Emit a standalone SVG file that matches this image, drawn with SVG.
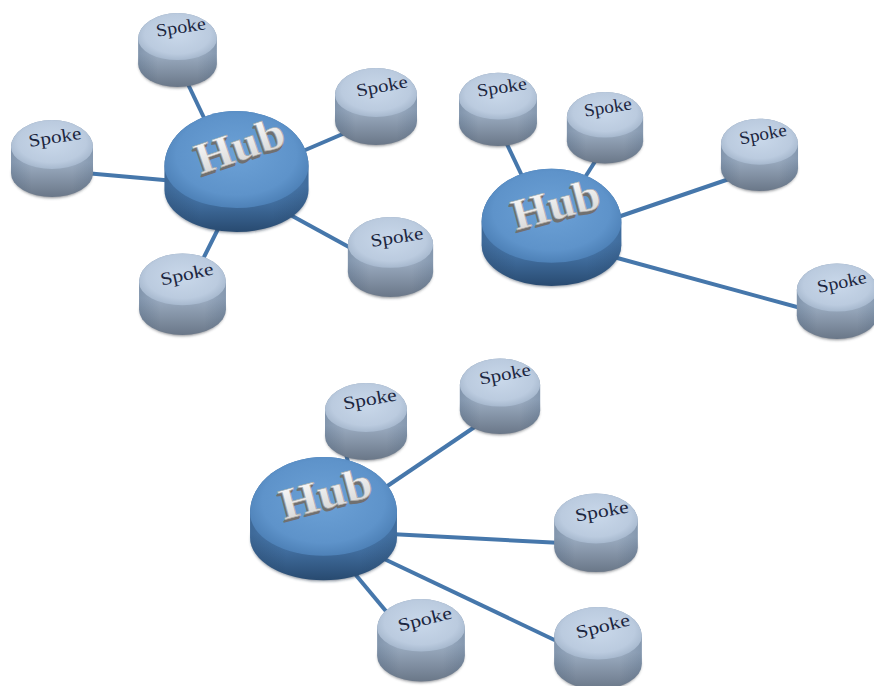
<svg xmlns="http://www.w3.org/2000/svg" xmlns:xlink="http://www.w3.org/1999/xlink" width="874" height="686" viewBox="0 0 874 686">
<style>
.conn{stroke:#4677ab;stroke-width:4;fill:none}
.st{font-family:"Liberation Serif","DejaVu Serif",serif;font-size:18px;fill:#1c2640;text-anchor:middle}
.ht{font-family:"Liberation Serif","DejaVu Serif",serif;font-weight:bold;font-size:44px;text-anchor:middle}
.hs{fill:#707070}
.hf{fill:url(#hubText);stroke:#a8a8a8;stroke-width:0.6}
</style>
<defs>
<linearGradient id="hubBody" x1="0" y1="0" x2="0" y2="1">
<stop offset="0.62" stop-color="#4f82b9"/>
<stop offset="1" stop-color="#284a70"/>
</linearGradient>
<linearGradient id="hubSide" x1="0" y1="0" x2="1" y2="0">
<stop offset="0" stop-color="#1e3a5a" stop-opacity="0.35"/>
<stop offset="0.25" stop-color="#1e3a5a" stop-opacity="0"/>
<stop offset="0.75" stop-color="#1e3a5a" stop-opacity="0"/>
<stop offset="1" stop-color="#1e3a5a" stop-opacity="0.3"/>
</linearGradient>
<radialGradient id="hubFace" cx="0.5" cy="0.45" r="0.58">
<stop offset="0" stop-color="#6ca1d6"/>
<stop offset="0.72" stop-color="#5e93ca"/>
<stop offset="1" stop-color="#4a7db3"/>
</radialGradient>
<linearGradient id="hubText" x1="0" y1="0" x2="0" y2="1">
<stop offset="0" stop-color="#ffffff"/>
<stop offset="1" stop-color="#d2d2d2"/>
</linearGradient>
<linearGradient id="spkBody" x1="0" y1="0" x2="0" y2="1">
<stop offset="0.55" stop-color="#9cadc2"/>
<stop offset="1" stop-color="#6a7788"/>
</linearGradient>
<radialGradient id="spkFace" cx="0.5" cy="0.45" r="0.58">
<stop offset="0" stop-color="#c9d8ea"/>
<stop offset="0.72" stop-color="#bbcbdf"/>
<stop offset="1" stop-color="#a2b4ca"/>
</radialGradient>
<filter id="blur" x="-20%" y="-20%" width="140%" height="140%"><feGaussianBlur stdDeviation="1.5"/></filter>
<g id="hub">
<ellipse cx="0" cy="26" rx="71" ry="41" fill="#1d2f45" opacity="0.55" filter="url(#blur)"/>
<path d="M -72,0 A 72 55 0 0 1 72,0 L 72,24 A 72 42 0 0 1 -72,24 Z" fill="url(#hubBody)"/>
<path d="M -72,0 A 72 55 0 0 1 72,0 L 72,24 A 72 42 0 0 1 -72,24 Z" fill="url(#hubSide)"/>
<path d="M -72,0 A 72 55 0 0 1 72,0 A 72 42 0 0 1 -72,0 Z" fill="url(#hubFace)"/>
</g>
<g id="spoke">
<ellipse cx="0" cy="27" rx="40" ry="24" fill="#3a3f48" opacity="0.6" filter="url(#blur)"/>
<path d="M -41,0 A 41 27 0 0 1 41,0 L 41,26 A 41 24 0 0 1 -41,26 Z" fill="url(#spkBody)"/>
<path d="M -41,0 A 41 27 0 0 1 41,0 L 41,26 A 41 24 0 0 1 -41,26 Z" fill="url(#hubSide)" opacity="0.6"/>
<path d="M -41,0 A 41 27 0 0 1 41,0 A 41 22 0 0 1 -41,0 Z" fill="url(#spkFace)"/>
</g>
</defs>
<rect width="874" height="686" fill="#ffffff"/>
<g id="connectors">
<line class="conn" x1="186" y1="80" x2="206" y2="122"/>
<line class="conn" x1="85" y1="173" x2="175" y2="181"/>
<line class="conn" x1="296" y1="154" x2="352" y2="130"/>
<line class="conn" x1="285" y1="212" x2="358" y2="252"/>
<line class="conn" x1="220" y1="225" x2="200" y2="265"/>
<line class="conn" x1="505" y1="140" x2="524" y2="180"/>
<line class="conn" x1="596" y1="160" x2="582" y2="182"/>
<line class="conn" x1="612" y1="219" x2="735" y2="177"/>
<line class="conn" x1="610" y1="256" x2="808" y2="310"/>
<line class="conn" x1="345" y1="450" x2="350" y2="470"/>
<line class="conn" x1="380" y1="491" x2="482" y2="422"/>
<line class="conn" x1="390" y1="534" x2="562" y2="543"/>
<line class="conn" x1="350" y1="568" x2="395" y2="622"/>
<line class="conn" x1="380" y1="557" x2="565" y2="645"/>
</g>
<g id="spoke1a">
<use xlink:href="#spoke" href="#spoke" transform="translate(177.5,39) scale(0.96)"/>
<text class="st" x="181" y="33" textLength="50" lengthAdjust="spacingAndGlyphs" transform="rotate(-9 181 28)">Spoke</text>
</g>
<g id="spoke2a">
<use xlink:href="#spoke" href="#spoke" transform="translate(498,98.5) scale(0.95)"/>
<text class="st" x="502" y="93" textLength="50" lengthAdjust="spacingAndGlyphs" transform="rotate(-9 502 88)">Spoke</text>
</g>
<g id="spoke1c">
<use xlink:href="#spoke" href="#spoke" transform="translate(376,95)"/>
<text class="st" x="382" y="92" textLength="52" lengthAdjust="spacingAndGlyphs" transform="rotate(-11 382 87)">Spoke</text>
</g>
<g id="spoke2b">
<use xlink:href="#spoke" href="#spoke" transform="translate(605,117) scale(0.93)"/>
<text class="st" x="608" y="113" textLength="48" lengthAdjust="spacingAndGlyphs" transform="rotate(-9 608 108)">Spoke</text>
</g>
<g id="spoke2c">
<use xlink:href="#spoke" href="#spoke" transform="translate(759.5,144) scale(0.94)"/>
<text class="st" x="763" y="140" textLength="48" lengthAdjust="spacingAndGlyphs" transform="rotate(-11 763 135)">Spoke</text>
</g>
<g id="spoke1b">
<use xlink:href="#spoke" href="#spoke" transform="translate(52,147)"/>
<text class="st" x="55" y="143" textLength="53" lengthAdjust="spacingAndGlyphs" transform="rotate(-9 55 138)">Spoke</text>
</g>
<g id="hub1">
<use xlink:href="#hub" href="#hub" transform="translate(236.5,166)"/>
<g transform="rotate(-19 240 146)">
<text class="ht hs" x="238" y="163" textLength="92" lengthAdjust="spacingAndGlyphs">Hub</text>
<text class="ht hs" x="239" y="162" textLength="92" lengthAdjust="spacingAndGlyphs">Hub</text>
<text class="ht hf" x="240" y="160" textLength="92" lengthAdjust="spacingAndGlyphs">Hub</text>
</g>
</g>
<g id="hub2">
<use xlink:href="#hub" href="#hub" transform="translate(551.5,222) scale(0.97)"/>
<g transform="rotate(-15 556 205)">
<text class="ht hs" x="554" y="222" textLength="90" lengthAdjust="spacingAndGlyphs">Hub</text>
<text class="ht hs" x="555" y="221" textLength="90" lengthAdjust="spacingAndGlyphs">Hub</text>
<text class="ht hf" x="556" y="219" textLength="90" lengthAdjust="spacingAndGlyphs">Hub</text>
</g>
</g>
<g id="spoke1d">
<use xlink:href="#spoke" href="#spoke" transform="translate(390.5,245) scale(1.04)"/>
<text class="st" x="397" y="243" textLength="53" lengthAdjust="spacingAndGlyphs" transform="rotate(-9 397 238)">Spoke</text>
</g>
<g id="spoke1e">
<use xlink:href="#spoke" href="#spoke" transform="translate(182.5,282) scale(1.06)"/>
<text class="st" x="187" y="280" textLength="54" lengthAdjust="spacingAndGlyphs" transform="rotate(-12 187 275)">Spoke</text>
</g>
<g id="spoke2d">
<use xlink:href="#spoke" href="#spoke" transform="translate(837,290) scale(0.98)"/>
<text class="st" x="842" y="288" textLength="50" lengthAdjust="spacingAndGlyphs" transform="rotate(-12 842 283)">Spoke</text>
</g>
<g id="spoke3b">
<use xlink:href="#spoke" href="#spoke" transform="translate(500,385) scale(0.98)"/>
<text class="st" x="505" y="380" textLength="52" lengthAdjust="spacingAndGlyphs" transform="rotate(-11 505 375)">Spoke</text>
</g>
<g id="spoke3a">
<use xlink:href="#spoke" href="#spoke" transform="translate(366,410)"/>
<text class="st" x="370" y="405" textLength="54" lengthAdjust="spacingAndGlyphs" transform="rotate(-10 370 400)">Spoke</text>
</g>
<g id="hub3">
<use xlink:href="#hub" href="#hub" transform="translate(323.5,513) scale(1.02)"/>
<g transform="rotate(-15 326 494)">
<text class="ht hs" x="324" y="511" textLength="94" lengthAdjust="spacingAndGlyphs">Hub</text>
<text class="ht hs" x="325" y="510" textLength="94" lengthAdjust="spacingAndGlyphs">Hub</text>
<text class="ht hf" x="326" y="508" textLength="94" lengthAdjust="spacingAndGlyphs">Hub</text>
</g>
</g>
<g id="spoke3c">
<use xlink:href="#spoke" href="#spoke" transform="translate(596,521) scale(1.02)"/>
<text class="st" x="602" y="517" textLength="54" lengthAdjust="spacingAndGlyphs" transform="rotate(-10 602 512)">Spoke</text>
</g>
<g id="spoke3d">
<use xlink:href="#spoke" href="#spoke" transform="translate(421,628) scale(1.07)"/>
<text class="st" x="425" y="625" textLength="55" lengthAdjust="spacingAndGlyphs" transform="rotate(-14 425 620)">Spoke</text>
</g>
<g id="spoke3e">
<use xlink:href="#spoke" href="#spoke" transform="translate(598,636) scale(1.07)"/>
<text class="st" x="603" y="632" textLength="55" lengthAdjust="spacingAndGlyphs" transform="rotate(-14 603 627)">Spoke</text>
</g>
</svg>
